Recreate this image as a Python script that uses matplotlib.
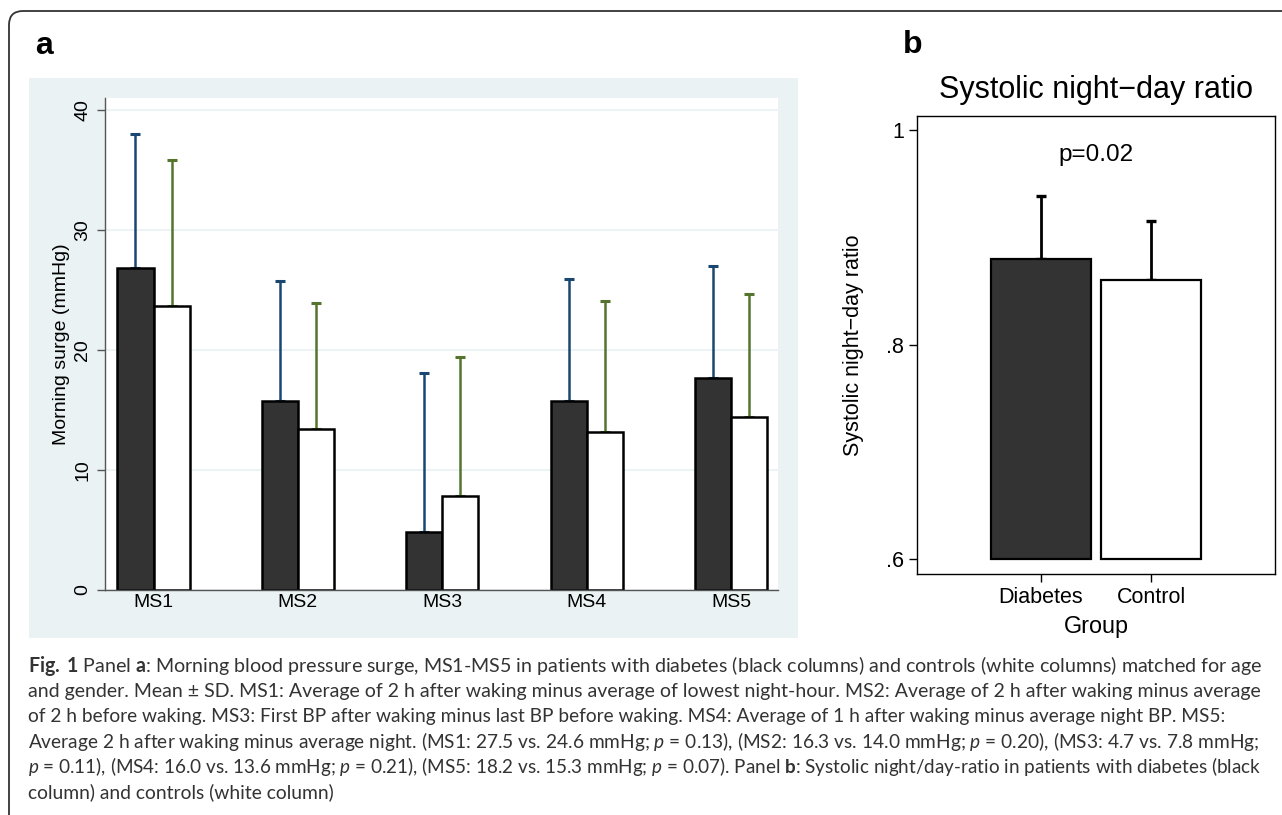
import matplotlib
matplotlib.use("Agg")
import matplotlib.pyplot as plt
from matplotlib.patches import Rectangle, FancyBboxPatch
from matplotlib.transforms import IdentityTransform
import numpy as np

# panel a: morning surge (mmHg), mean and SD
ms_labels = ["MS1", "MS2", "MS3", "MS4", "MS5"]
diab_mean = [26.8, 15.75, 4.8, 15.75, 17.7]
diab_sd = [11.2, 10.0, 13.3, 10.2, 9.3]
ctrl_mean = [23.7, 13.4, 7.8, 13.2, 14.4]
ctrl_sd = [12.1, 10.5, 11.6, 10.9, 10.3]

# panel b: systolic night-day ratio
groups = ["Diabetes", "Control"]
ratio_mean = [0.880, 0.8605]
ratio_sd = [0.0586, 0.0545]

caption = [
    r"$\mathbf{Fig.\;1}$ Panel $\mathbf{a}$: Morning blood pressure surge, MS1-MS5 in patients with diabetes (black columns) and controls (white columns) matched for age",
    "and gender. Mean \u00b1 SD. MS1: Average of 2 h after waking minus average of lowest night-hour. MS2: Average of 2 h after waking minus average",
    "of 2 h before waking. MS3: First BP after waking minus last BP before waking. MS4: Average of 1 h after waking minus average night BP. MS5:",
    r"Average 2 h after waking minus average night. (MS1: 27.5 vs. 24.6 mmHg; $\mathit{p}$ = 0.13), (MS2: 16.3 vs. 14.0 mmHg; $\mathit{p}$ = 0.20), (MS3: 4.7 vs. 7.8 mmHg;",
    r"$\mathit{p}$ = 0.11), (MS4: 16.0 vs. 13.6 mmHg; $\mathit{p}$ = 0.21), (MS5: 18.2 vs. 15.3 mmHg; $\mathit{p}$ = 0.07). Panel $\mathbf{b}$: Systolic night/day-ratio in patients with diabetes (black",
    "column) and controls (white column)",
]
# where each caption line ends in the reference (px); None = natural width
caption_ends = [1267, 1268, 1230, 1262, 1268, None]

plt.rcParams["font.family"] = ["Liberation Sans", "DejaVu Sans"]
plt.rcParams["mathtext.fontset"] = "custom"
plt.rcParams["mathtext.rm"] = "Lato"
plt.rcParams["mathtext.it"] = "Lato:italic"
plt.rcParams["mathtext.bf"] = "Lato:bold"

W, H = 1282, 815
fig = plt.figure(figsize=(W / 100, H / 100), dpi=100)
fig.patch.set_facecolor("white")


def fx(px):
    return px / W


def fy(py):
    return 1 - py / H


# outer rounded frame
frame = FancyBboxPatch((9, -30), 1320, H - 11 + 30, boxstyle="round,pad=0,rounding_size=14",
                       transform=IdentityTransform(), facecolor="none", edgecolor="#333333",
                       linewidth=1.3)
fig.add_artist(frame)

# stata background of panel a
fig.add_artist(Rectangle((fx(29), fy(638)), fx(798 - 29), (638 - 78) / H,
                         transform=fig.transFigure, facecolor="#eaf2f3", edgecolor="none", zorder=0))

navy = "#1a476f"
green = "#55752f"

# ---- panel a
ax = fig.add_axes([fx(105), fy(590), fx(778 - 105), (590 - 98) / H])
ax.set_facecolor("white")
x = np.arange(len(ms_labels))
w = 0.25
ax.errorbar(x - w / 2, diab_mean, yerr=[np.zeros(5), diab_sd], fmt="none", ecolor=navy,
            elinewidth=1.8, capsize=3.6, capthick=2.2, zorder=1)
ax.errorbar(x + w / 2, ctrl_mean, yerr=[np.zeros(5), ctrl_sd], fmt="none", ecolor=green,
            elinewidth=1.8, capsize=3.6, capthick=2.2, zorder=1)
ax.bar(x - w / 2, diab_mean, w, color="#333333", edgecolor="black", linewidth=1.8, zorder=2)
ax.bar(x + w / 2, ctrl_mean, w, color="white", edgecolor="black", linewidth=1.8, zorder=2)
ax.set_xlim(-0.336, 4.325)
ax.set_ylim(0, 41)
ax.set_yticks([0, 10, 20, 30, 40])
ax.set_xticks(x)
ax.set_xticklabels(ms_labels)
ax.grid(axis="y", color="#eaf2f3", linewidth=1.3, zorder=0)
ax.set_axisbelow(True)
for s in ["top", "right"]:
    ax.spines[s].set_visible(False)
for s in ["left", "bottom"]:
    ax.spines[s].set_color("#555555")
    ax.spines[s].set_linewidth(1.0)
ax.tick_params(axis="y", labelrotation=90, length=6, width=1, color="#555555", labelsize=14, pad=4)
for lbl in ax.get_yticklabels():
    lbl.set_va("center")
ax.tick_params(axis="x", length=0, labelsize=14, pad=3)
fig.text(fx(62), fy(344), "Morning surge (mmHg)", rotation=90, ha="center", va="center", fontsize=14)

# ---- panel b
bx = fig.add_axes([fx(917), fy(574), fx(1275 - 917), (574 - 116) / H])
xb = np.array([1, 2])
bx.errorbar(xb, ratio_mean, yerr=[np.zeros(2), ratio_sd], fmt="none", ecolor="black",
            elinewidth=2.0, capsize=3.6, capthick=2.4, zorder=1)
bx.bar(xb, np.array(ratio_mean) - 0.6, 0.909, bottom=0.6, color=["#333333", "white"],
       edgecolor="black", linewidth=1.6, zorder=2)
bx.set_xlim(1 - 1.127, 2 + 1.127)
bx.set_ylim(0.5863, 1.0133)
bx.set_yticks([0.6, 0.8, 1.0])
bx.set_yticklabels([".6", ".8", "1"])
bx.set_xticks(xb)
bx.set_xticklabels(groups)
for s in bx.spines.values():
    s.set_linewidth(1.0)
    s.set_color("black")
bx.tick_params(length=6, width=1, labelsize=15.5, pad=3.5)
bx.text(1.5, 0.977, "p=0.02", ha="center", va="center", fontsize=17.5)
fig.text(fx(1096), fy(90), "Systolic night\u2212day ratio", ha="center", va="center", fontsize=22)
fig.text(fx(853), fy(345), "Systolic night\u2212day ratio", rotation=90, ha="center", va="center", fontsize=15.5)
fig.text(fx(1096), fy(627), "Group", ha="center", va="center", fontsize=16.8)

# panel letters
fig.text(fx(44), fy(46), "a", ha="center", va="center", fontsize=23, fontweight="bold")
fig.text(fx(913), fy(45), "b", ha="center", va="center", fontsize=23, fontweight="bold")

# caption, each line sized to end where the reference line ends
renderer = fig.canvas.get_renderer()
cap_texts = []
for i, line in enumerate(caption):
    t = fig.text(fx(28), fy(672 + 25.2 * i), line, ha="left", va="baseline", fontsize=14,
                 family="Lato", color="#333333")
    cap_texts.append(t)
sizes = []
for t, end in zip(cap_texts, caption_ends):
    if end is None:
        continue
    wpx = t.get_window_extent(renderer).width
    sizes.append(14 * (end - 28) / wpx)
k = 0
for t, end in zip(cap_texts, caption_ends):
    if end is None:
        t.set_fontsize(np.mean(sizes))
    else:
        t.set_fontsize(sizes[k])
        k += 1

fig.savefig("out.png", dpi=100)
